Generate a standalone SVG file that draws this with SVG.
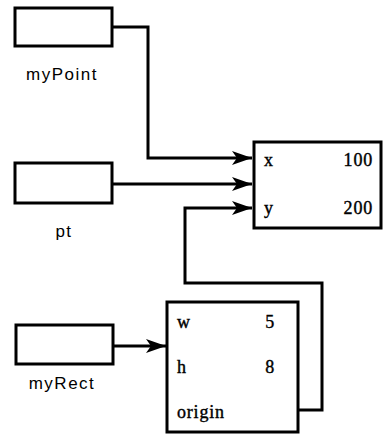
<svg xmlns="http://www.w3.org/2000/svg" width="384" height="434" viewBox="0 0 384 434">
<style>
.box{fill:#fff;stroke:#000;stroke-width:3}
.lbl{font-family:"Liberation Sans",Arial,sans-serif;font-size:17px;letter-spacing:1.5px;fill:#000}
.val{font-family:"Liberation Serif","Times New Roman",serif;font-size:18px;letter-spacing:0.8px;fill:#000;stroke:#000;stroke-width:0.4}
.con{fill:none;stroke:#000;stroke-width:3}
</style>
<defs>
<marker id="ah" markerWidth="20" markerHeight="14" refX="20" refY="7" orient="auto" markerUnits="userSpaceOnUse">
<path d="M0,0 L20,7 L0,14 L5,7 Z" fill="#000"/>
</marker>
</defs>
<g id="myPoint">
<rect class="box" x="15" y="8" width="97" height="38"/>
<text class="lbl" x="62" y="80" text-anchor="middle">myPoint</text>
</g>
<g id="pt">
<rect class="box" x="15" y="163" width="97" height="40"/>
<text class="lbl" x="64" y="237" text-anchor="middle">pt</text>
</g>
<g id="myRect">
<rect class="box" x="16" y="325" width="97" height="39"/>
<text class="lbl" x="62" y="389" text-anchor="middle">myRect</text>
</g>
<g id="point">
<rect class="box" x="254" y="142" width="127" height="86"/>
<text class="val" x="264" y="166">x</text>
<text class="val" x="373" y="166" text-anchor="end">100</text>
<text class="val" x="264" y="214">y</text>
<text class="val" x="373" y="214" text-anchor="end">200</text>
</g>
<g id="rect">
<rect class="box" x="167" y="302" width="131" height="130"/>
<text class="val" x="177" y="328">w</text>
<text class="val" x="275" y="328" text-anchor="end">5</text>
<text class="val" x="177" y="373">h</text>
<text class="val" x="275" y="373" text-anchor="end">8</text>
<text class="val" x="177" y="418">origin</text>
</g>
<g id="connectors">
<path class="con" d="M112,27 H148 V158 H252" marker-end="url(#ah)"/>
<path class="con" d="M112,184 H252" marker-end="url(#ah)"/>
<path class="con" d="M298,410 H322 V283 H185 V208 H252" marker-end="url(#ah)"/>
<path class="con" d="M113,346 H166" marker-end="url(#ah)"/>
</g>
</svg>
